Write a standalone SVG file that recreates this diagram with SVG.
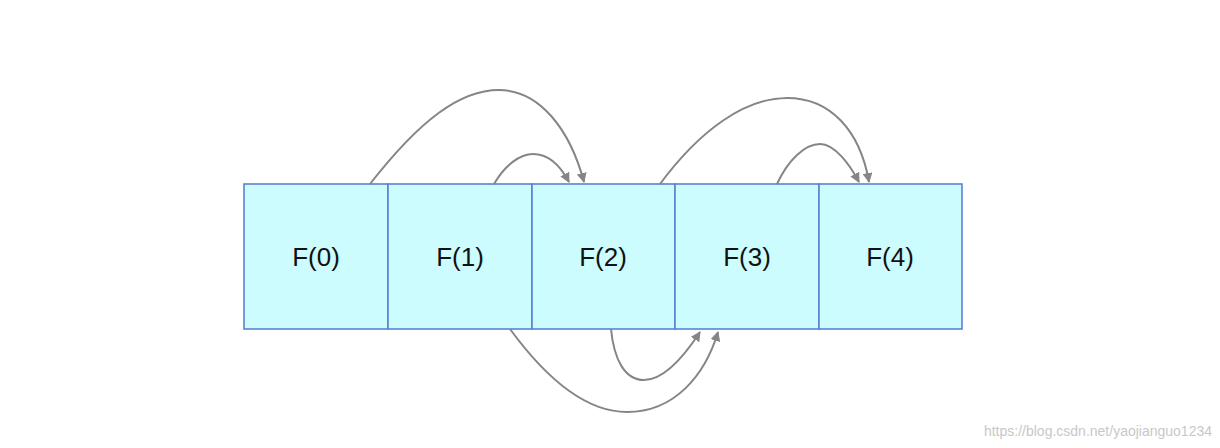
<svg xmlns="http://www.w3.org/2000/svg" width="1220" height="448" viewBox="0 0 1220 448">
<style>
.box{fill:#ccfcfd;stroke:#5b82d6;stroke-width:1.6}
.lbl{font-family:"Liberation Sans",Arial,sans-serif;font-size:26px;fill:#111;text-anchor:middle}
.c{fill:none;stroke:#858585;stroke-width:2}
</style>
<defs><marker id="a" markerWidth="10" markerHeight="10" refX="9" refY="5" orient="auto" markerUnits="userSpaceOnUse" viewBox="0 0 10 10"><path d="M0,0L10,5L0,10z" fill="#858585"/></marker></defs>
<rect width="1220" height="448" fill="#fff"/>
<g id="n0"><rect class="box" x="244" y="184" width="144" height="145"/><text class="lbl" x="316" y="266">F(0)</text></g>
<g id="n1"><rect class="box" x="388" y="184" width="144" height="145"/><text class="lbl" x="460" y="266">F(1)</text></g>
<g id="n2"><rect class="box" x="532" y="184" width="143" height="145"/><text class="lbl" x="603" y="266">F(2)</text></g>
<g id="n3"><rect class="box" x="675" y="184" width="144" height="145"/><text class="lbl" x="747" y="266">F(3)</text></g>
<g id="n4"><rect class="box" x="819" y="184" width="143" height="145"/><text class="lbl" x="890" y="266">F(4)</text></g>
<g id="connectors">
<path class="c" marker-end="url(#a)" d="M370,184 C420,120 460,90 499,90 C540,90 570,130 584,182"/>
<path class="c" marker-end="url(#a)" d="M494,184 C505,165 520,154 533,154 C548,154 560,165 569,182"/>
<path class="c" marker-end="url(#a)" d="M660,184 C700,130 745,98 787,98 C830,98 860,130 869,182"/>
<path class="c" marker-end="url(#a)" d="M777,184 C788,160 805,144 820,144 C835,144 850,165 859,182"/>
<path class="c" marker-end="url(#a)" d="M510,329 C540,370 580,412 627,412 C675,412 705,375 718,332"/>
<path class="c" marker-end="url(#a)" d="M611,329 C614,360 625,380 644,380 C665,380 685,355 700,332"/>
</g>
<text x="1212" y="436" font-family="Liberation Sans,Arial,sans-serif" font-size="14" fill="#c8c8c8" text-anchor="end">https://blog.csdn.net/yaojianguo1234</text>
</svg>
